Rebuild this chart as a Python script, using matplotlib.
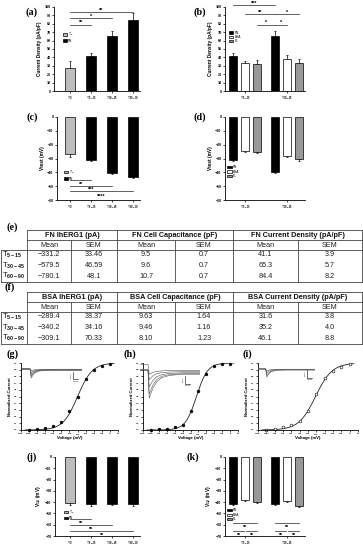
import numpy as np
import matplotlib
matplotlib.use('Agg')
import matplotlib.pyplot as plt

plt.rcParams['font.family'] = ['Liberation Sans', 'DejaVu Sans']
plt.rcParams['mathtext.fontset'] = 'custom'
plt.rcParams['mathtext.rm'] = 'Liberation Sans'
plt.rcParams['mathtext.bf'] = 'Liberation Sans:bold'
plt.rcParams['mathtext.default'] = 'bf'

W, H = 363, 550
LIGHT = '#bdbdbd'
PLGRAY = '#999999'

# ---- data ----
time_labels = ['T$_0$', 'T$_{5-15}$', 'T$_{30-45}$', 'T$_{60-90}$']
group_labels = ['T$_{5-15}$', 'T$_{30-45}$']

# (a) current density, T0 + FN
cd_mean = [27, 41.1, 65.3, 84.4]
cd_sem = [9, 3.9, 5.7, 8.2]
# (b) current density FN / BSA / PL
cd_fn = [41.1, 65.3]
cd_fn_sem = [3.9, 5.7]
cd_bsa = [33.5, 38.5]
cd_bsa_sem = [2.5, 4.5]
cd_pl = [32, 33.5]
cd_pl_sem = [5, 5]
# (c) Vtest, T0 + FN
vt_mean = [-26.5, -31, -40.2, -43.6]
vt_sem = [2.5, 0.6, 0.9, 0.6]
# (d) Vtest FN / BSA / PL
vt_fn = [-31, -39.8]
vt_fn_sem = [0.7, 1.0]
vt_bsa = [-24.8, -28]
vt_bsa_sem = [0.7, 0.8]
vt_pl = [-25.2, -30.4]
vt_pl_sem = [0.8, 1.2]
# (j) V1/2, T0 + FN
vh_mean = [-41, -42, -41.5, -42]
vh_sem = [1.5, 1.0, 0.8, 1.0]
# (k) V1/2 FN / BSA / PL
vh_fn = [-41.6, -41.5]
vh_fn_sem = [1.0, 1.0]
vh_bsa = [-38.5, -39]
vh_bsa_sem = [0.8, 0.8]
vh_pl = [-39.5, -43]
vh_pl_sem = [1.0, 1.5]

# (g)(h)(i) activation
volts = [-100, -90, -80, -70, -60, -50, -40, -30, -20, -10, 0]
g_norm = [0.0, 0.01, 0.03, 0.06, 0.12, 0.29, 0.50, 0.76, 0.89, 0.95, 0.98]
h_norm = [0.0, 0.01, 0.02, 0.04, 0.08, 0.28, 0.58, 0.83, 0.96, 0.98, 0.99]
i_norm = [0.0, 0.02, 0.04, 0.08, 0.14, 0.28, 0.53, 0.77, 0.88, 0.94, 0.99]
g_fit = (-40.0, 9.0)
h_fit = (-42.5, 7.0)
i_fit = (-41.0, 10.0)

# inset traces (ms, relative current)
trace_t = [0, 20, 21, 23, 27, 33, 42, 55, 75, 110, 150]
g_traces = [
    [0, 0, -0.05, -0.2, -0.14, -0.08, -0.05, -0.04, -0.03, -0.03, -0.03],
    [0, 0, -0.1, -0.4, -0.28, -0.16, -0.1, -0.07, -0.06, -0.06, -0.06],
    [0, 0, -0.15, -0.6, -0.42, -0.24, -0.14, -0.1, -0.09, -0.09, -0.09],
    [0, 0, -0.2, -0.8, -0.56, -0.32, -0.19, -0.14, -0.12, -0.12, -0.12],
    [0, 0, -0.25, -1.0, -0.7, -0.4, -0.24, -0.17, -0.15, -0.15, -0.15],
]
h_traces = [
    [0.2, 0.2, 0.05, -0.15, -0.12, -0.08, -0.05, -0.03, -0.02, -0.02, -0.02],
    [0, 0, -0.1, -0.35, -0.28, -0.2, -0.13, -0.09, -0.07, -0.06, -0.06],
    [0, 0, -0.2, -0.6, -0.5, -0.36, -0.24, -0.16, -0.12, -0.1, -0.1],
    [0, 0, -0.3, -0.85, -0.72, -0.52, -0.34, -0.22, -0.16, -0.13, -0.13],
    [0, 0, -0.35, -1.0, -0.85, -0.62, -0.42, -0.27, -0.19, -0.15, -0.15],
]
i_traces = [
    [0, 0, -0.05, -0.2, -0.14, -0.08, -0.05, -0.04, -0.03, -0.03, -0.03],
    [0, 0, -0.1, -0.45, -0.3, -0.17, -0.1, -0.07, -0.06, -0.06, -0.06],
    [0, 0, -0.15, -0.7, -0.48, -0.27, -0.15, -0.1, -0.09, -0.09, -0.09],
    [0, 0, -0.2, -0.9, -0.62, -0.35, -0.2, -0.14, -0.12, -0.12, -0.12],
]

# tables
row_labels = ['T$_{5-15}$', 'T$_{30-45}$', 'T$_{60-90}$']
fn_headers = ['FN IhERG1 (pA)', 'FN Cell Capacitance (pF)', 'FN Current Density (pA/pF)']
fn_rows = [['\u2212331.2', '33.46', '9.5', '0.7', '41.1', '3.9'],
           ['\u2212579.5', '46.59', '9.6', '0.7', '65.3', '5.7'],
           ['\u2212780.1', '48.1', '10.7', '0.7', '84.4', '8.2']]
bsa_headers = ['BSA IhERG1 (pA)', 'BSA Cell Capacitance (pF)', 'BSA Current Density (pA/pF)']
bsa_rows = [['\u2212289.4', '38.37', '9.63', '1.64', '31.6', '3.8'],
            ['\u2212340.2', '34.16', '9.46', '1.16', '35.2', '4.0'],
            ['\u2212309.1', '70.33', '8.10', '1.23', '46.1', '8.8']]

fig = plt.figure(figsize=(W / 100, H / 100), dpi=100)


def px_axes(l, t, r, b):
    return fig.add_axes([l / W, 1 - b / H, (r - l) / W, (b - t) / H])


def style(ax, ysize=2.6):
    for s in ['top', 'right']:
        ax.spines[s].set_visible(False)
    for s in ['left', 'bottom']:
        ax.spines[s].set_linewidth(0.6)
    ax.tick_params(width=0.5, length=1.5, labelsize=ysize, pad=1)
    for lab in ax.get_yticklabels():
        lab.set_fontweight('bold')


def errs(ax, x, m, s, up=True):
    z = np.zeros(len(m))
    yerr = [z, s] if up else [s, z]
    ax.errorbar(x, m, yerr=yerr, fmt='none', ecolor='black', elinewidth=0.5,
                capsize=1.0, capthick=0.5, zorder=1)


def sig(ax, x1, x2, y, txt, ty, fs=2.6):
    ax.plot([x1, x2], [y, y], color='#222222', lw=0.5, clip_on=False)
    ax.text((x1 + x2) / 2, ty, txt, ha='center', va='center', fontsize=fs,
            fontweight='bold', clip_on=False)


def tiny_legend(ax, handles, labels, anchor):
    ax.legend(handles, labels, loc='upper left', bbox_to_anchor=anchor, frameon=False,
              fontsize=2.3, handlelength=1.3, handleheight=0.7, labelspacing=0.15,
              borderpad=0, borderaxespad=0, handletextpad=0.4)


def time_bars(ax, means, sems, up):
    x = np.arange(len(means))
    cols = [LIGHT] + ['black'] * (len(means) - 1)
    bars = ax.bar(x, means, width=0.5, color=cols, edgecolor='black', linewidth=0.5, zorder=2)
    errs(ax, x, means, sems, up)
    ax.set_xticks(x)
    ax.set_xticklabels(time_labels, fontsize=4.3)
    return x, bars


def group_bars(ax, fn, fns, bsa, bsas, pl, pls, up):
    centers = np.array([0, 3.5])
    out = []
    for off, m, s, c in [(-1, fn, fns, 'black'), (0, bsa, bsas, 'white'), (1, pl, pls, PLGRAY)]:
        b = ax.bar(centers + off, m, width=0.6, color=c, edgecolor='black', linewidth=0.5, zorder=2)
        errs(ax, centers + off, m, s, up)
        out.append(b)
    ax.set_xticks(centers)
    ax.set_xticklabels(group_labels, fontsize=4.3)
    return centers, out


# ---- (a) ----
ax = px_axes(54, 7, 140, 91)
x, bars = time_bars(ax, cd_mean, cd_sem, True)
ax.set_xlim(-0.76, 3.33)
ax.set_ylim(0, 100)
ax.set_yticks(np.arange(0, 101, 10))
ax.set_ylabel('Current Density (pA/pF)', fontsize=3.4, fontweight='bold', labelpad=1.5)
style(ax)
sig(ax, x[0], x[1], 79, 'ns', 83)
sig(ax, x[0], x[2], 86.5, '*', 89, 4)
sig(ax, x[0], x[3], 94, '**', 96.5, 4)
tiny_legend(ax, [bars[0], bars[1]], ['T$_0$', 'FN'], (0.1, 0.72))

# ---- (b) ----
ax = px_axes(225, 7, 305, 91)
c, bb = group_bars(ax, cd_fn, cd_fn_sem, cd_bsa, cd_bsa_sem, cd_pl, cd_pl_sem, True)
ax.set_xlim(-1.67, 5)
ax.set_ylim(0, 100)
ax.set_yticks(np.arange(0, 101, 10))
ax.set_ylabel('Current Density (pA/pF)', fontsize=3.4, fontweight='bold', labelpad=1.5)
style(ax)
sig(ax, c[0] - 1, c[1] - 1, 102, '***', 104.5, 4)
sig(ax, c[0], c[1] - 1, 91.5, '**', 94, 4)
sig(ax, c[1] - 1, c[1] + 1, 91.5, '*', 94, 4)
sig(ax, c[0] + 1, c[1] - 1, 79, '*', 81.5, 4)
sig(ax, c[1] - 1, c[1], 79, '*', 81.5, 4)
tiny_legend(ax, bb, ['FN', 'BSA', 'PL'], (0.05, 0.72))

# ---- (c) ----
ax = px_axes(57, 117, 140, 200)
x, bars = time_bars(ax, vt_mean, vt_sem, False)
ax.set_xlim(-0.62, 3.33)
ax.set_ylim(-60, 0)
ax.set_yticks(np.arange(-60, 1, 10))
ax.set_ylabel('Vtest (mV)', fontsize=3.4, fontweight='bold', labelpad=1.5)
style(ax)
sig(ax, x[0], x[1], -45.5, 'ns', -47.5)
sig(ax, x[0], x[2], -49.6, '***', -52.5, 4)
sig(ax, x[0], x[3], -53.6, '****', -57.5, 4)
tiny_legend(ax, [bars[0], bars[1]], ['T$_0$', 'FN'], (0.08, 0.38))

# ---- (d) ----
ax = px_axes(225, 117, 305, 200)
c, bb = group_bars(ax, vt_fn, vt_fn_sem, vt_bsa, vt_bsa_sem, vt_pl, vt_pl_sem, False)
ax.set_xlim(-1.67, 5)
ax.set_ylim(-60, 0)
ax.set_yticks(np.arange(-60, 1, 10))
ax.set_ylabel('Vtest (mV)', fontsize=3.4, fontweight='bold', labelpad=1.5)
style(ax)
tiny_legend(ax, bb, ['FN', 'BSA', 'PL'], (0.03, 0.42))

# ---- (j) ----
ax = px_axes(55, 457, 140, 536)
x, bars = time_bars(ax, vh_mean, vh_sem, False)
ax.set_xlim(-0.71, 3.33)
ax.set_ylim(-70, 0)
ax.set_yticks(np.arange(-70, 1, 10))
ax.set_ylabel('V$_{1/2}$ (mV)', fontsize=3.4, fontweight='bold', labelpad=1.5)
style(ax)
sig(ax, x[0], x[1], -55, 'ns', -57.8)
sig(ax, x[0], x[2], -60, 'ns', -63.2)
sig(ax, x[0], x[3], -65.5, 'ns', -68.5)
tiny_legend(ax, [bars[0], bars[1]], ['T$_0$', 'FN'], (0.1, 0.35))

# ---- (k) ----
ax = px_axes(225, 457, 305, 536)
c, bb = group_bars(ax, vh_fn, vh_fn_sem, vh_bsa, vh_bsa_sem, vh_pl, vh_pl_sem, False)
ax.set_xlim(-1.67, 5)
ax.set_ylim(-70, 0)
ax.set_yticks(np.arange(-70, 1, 10))
ax.set_ylabel('V$_{1/2}$ (mV)', fontsize=3.4, fontweight='bold', labelpad=1.5)
style(ax)
for cc in c:
    sig(ax, cc - 1, cc + 1, -58.2, 'ns', -61.5)
    sig(ax, cc - 1, cc - 0.1, -65.3, 'ns', -68.5)
    sig(ax, cc + 0.1, cc + 1, -65.3, 'ns', -68.5)
tiny_legend(ax, bb, ['FN', 'BSA', 'PL'], (0.03, 0.35))

# ---- (g)(h)(i) ----
act = [((21, 363, 118, 430), g_norm, g_fit, 'black', g_traces, (22, 366, 82, 380), (-1.22, 0.33)),
       ((143, 363, 238, 430), h_norm, h_fit, 'black', h_traces, (140, 363, 200, 400), (-1.07, 0.25)),
       ((258, 363, 358, 430), i_norm, i_fit, 'white', i_traces, (258, 366, 315, 380), (-1.22, 0.33))]
for box, yn, (vh, k), face, traces, ibox, ilim in act:
    ax = px_axes(*box)
    vv = np.linspace(-105, 5, 200)
    ax.plot(vv, 1 / (1 + np.exp((vh - vv) / k)), color='#222222', lw=0.6)
    ax.plot(volts, yn, 'o', ms=2.0, mfc=face, mec='black', mew=0.4, clip_on=False)
    ax.set_xlim(-110, 10)
    ax.set_ylim(0, 1.0)
    ax.set_xticks(np.arange(-110, 11, 10))
    ax.set_yticks(np.arange(0, 1.01, 0.1))
    ax.set_yticklabels(['%.1f' % v for v in np.arange(0, 1.01, 0.1)])
    style(ax, 1.7)
    for lab in ax.get_xticklabels():
        lab.set_fontweight('bold')
    ax.set_ylabel('Normalized Current', fontsize=3.1, fontweight='bold', labelpad=1.5)
    ax.set_xlabel('Voltage (mV)', fontsize=3.1, fontweight='bold', labelpad=1)
    ins = px_axes(*ibox)
    for tr in traces:
        ins.plot(trace_t, tr, color='#555555', lw=0.4)
    ins.set_xlim(0, 150)
    ins.set_ylim(*ilim)
    ins.axis('off')

# ---- overlay: labels, tables, scale bars ----
ov = fig.add_axes([0, 0, 1, 1])
ov.set_xlim(0, W)
ov.set_ylim(H, 0)
ov.axis('off')

for lab, lx, ly in [('(a)', 32, 12), ('(b)', 200, 12), ('(c)', 32, 117), ('(d)', 200, 117),
                    ('(e)', 12, 227), ('(f)', 10, 287.5), ('(g)', 13, 354), ('(h)', 130, 354),
                    ('(i)', 247, 354), ('(j)', 32, 457), ('(k)', 193, 457)]:
    ov.text(lx, ly, lab, fontsize=7.3, fontweight='bold', family='Liberation Serif',
            ha='center', va='center')

# scale bars in insets
for sx, sy0, sy1 in [(73, 372, 379), (185, 376, 384), (307, 370, 378)]:
    ov.plot([sx, sx, sx + 5], [sy0, sy1, sy1], color='black', lw=0.4)
    ov.text(sx - 2, (sy0 + sy1) / 2, '50 pA', fontsize=1.4, rotation=90, ha='center', va='center')
    ov.text(sx + 3, sy1 + 2, '50 ms', fontsize=1.4, ha='center', va='center')

cols = [27, 71, 117, 175, 233, 298, 362]
LC = '#444444'


def draw_table(top, headers, rows):
    ys = [top, top + 10, top + 19.5, top + 51.5]
    ov.plot([cols[0], cols[-1]], [ys[0], ys[0]], color=LC, lw=0.6)
    ov.plot([cols[0], cols[-1]], [ys[1], ys[1]], color=LC, lw=0.6)
    ov.plot([1, cols[-1]], [ys[2], ys[2]], color=LC, lw=0.6)
    ov.plot([1, cols[-1]], [ys[3], ys[3]], color=LC, lw=0.6)
    for xx in [cols[0], cols[2], cols[4], cols[6]]:
        ov.plot([xx, xx], [ys[0], ys[1]], color=LC, lw=0.6)
    for xx in cols:
        ov.plot([xx, xx], [ys[1], ys[3]], color=LC, lw=0.6)
    ov.plot([1, 1], [ys[2], ys[3]], color=LC, lw=0.6)
    for j, h in enumerate(headers):
        ov.text((cols[2 * j] + cols[2 * j + 2]) / 2, (ys[0] + ys[1]) / 2 + 0.5, h,
                fontsize=5.2, fontweight='bold', ha='center', va='center', color='#111111')
        ov.text((cols[2 * j] + cols[2 * j + 1]) / 2, (ys[1] + ys[2]) / 2 + 0.5, 'Mean',
                fontsize=5.2, ha='center', va='center', color='#222222')
        ov.text((cols[2 * j + 1] + cols[2 * j + 2]) / 2, (ys[1] + ys[2]) / 2 + 0.5, 'SEM',
                fontsize=5.2, ha='center', va='center', color='#222222')
    for i, (rl, r) in enumerate(zip(row_labels, rows)):
        yy = ys[2] + 5.3 + 10.7 * i
        ov.text(2.5, yy, rl, fontsize=5.4, ha='left', va='center', color='#111111')
        for j, v in enumerate(r):
            ov.text((cols[j] + cols[j + 1]) / 2, yy, v, fontsize=5.2, ha='center', va='center',
                    color='#222222')


draw_table(230, fn_headers, fn_rows)
draw_table(292, bsa_headers, bsa_rows)

fig.savefig('out.png', dpi=100)
